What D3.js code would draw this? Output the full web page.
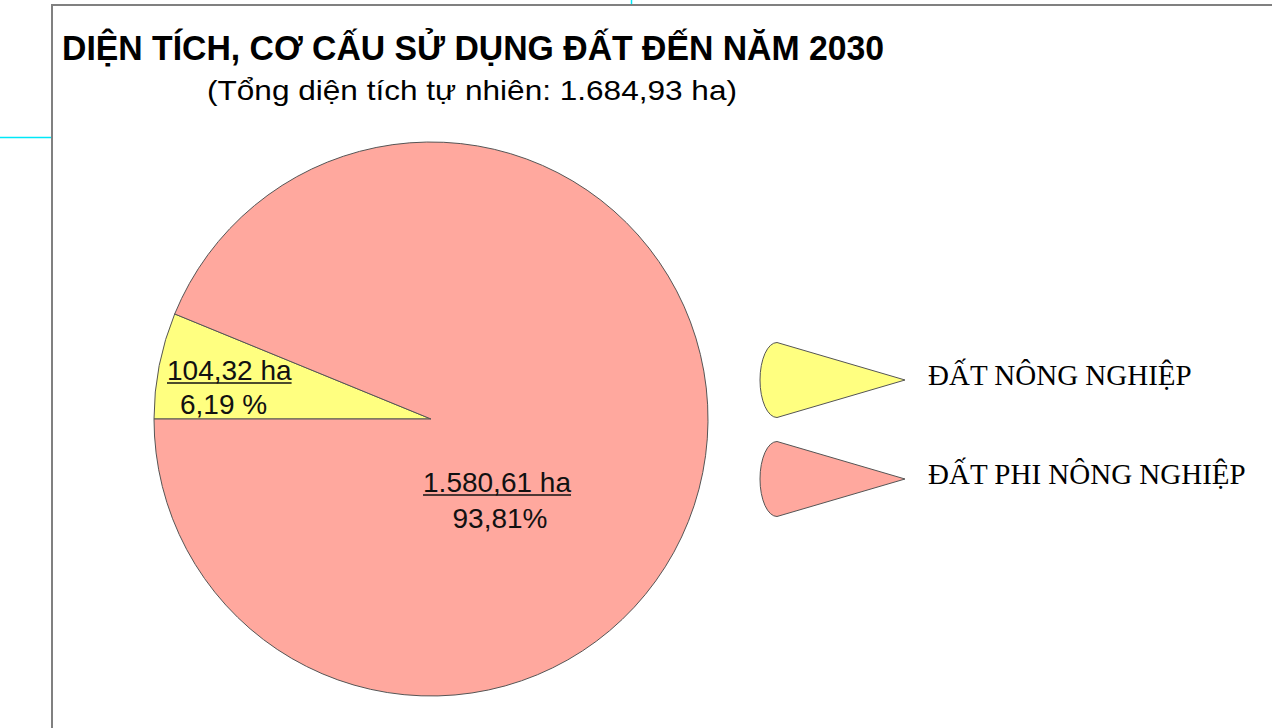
<!DOCTYPE html>
<html><head><meta charset="utf-8">
<script src="https://cdn.jsdelivr.net/npm/d3@7"></script>
<style>html,body{margin:0;padding:0;background:#fff;overflow:hidden}</style>
</head><body>
<svg id="chart" width="1272" height="728"></svg>
<script>
const titleText = "DIỆN TÍCH, CƠ CẤU SỬ DỤNG ĐẤT ĐẾN NĂM 2030";
const subtitleText = "(Tổng diện tích tự nhiên: 1.684,93 ha)";
const categories = ["ĐẤT NÔNG NGHIỆP", "ĐẤT PHI NÔNG NGHIỆP"];
const areas = [104.32, 1580.61];
const areaLabels = ["104,32 ha", "1.580,61 ha"];
const percentLabels = ["6,19 %", "93,81%"];
const colors = ["#FFFF80", "#FFA89E"];

const svg = d3.select("#chart");

// frame lines
svg.append("line").attr("x1",52).attr("y1",5).attr("x2",52).attr("y2",728).attr("stroke","#808080").attr("stroke-width",2);
svg.append("line").attr("x1",51).attr("y1",5).attr("x2",1272).attr("y2",5).attr("stroke","#808080").attr("stroke-width",2);
svg.append("line").attr("x1",0).attr("y1",137.5).attr("x2",51).attr("y2",137.5).attr("stroke","#00E8F8").attr("stroke-width",1.5);
svg.append("line").attr("x1",631.5).attr("y1",0).attr("x2",631.5).attr("y2",4).attr("stroke","#00E8F8").attr("stroke-width",1.5);

// title
svg.append("text").attr("x",62).attr("y",60).text(titleText)
  .attr("font-family","Liberation Sans, Arial, sans-serif").attr("font-weight","bold")
  .attr("font-size",35).attr("textLength",822).attr("lengthAdjust","spacingAndGlyphs").attr("fill","#000");
svg.append("text").attr("x",207).attr("y",100).text(subtitleText)
  .attr("font-family","Liberation Sans, Arial, sans-serif")
  .attr("font-size",28).attr("textLength",530).attr("lengthAdjust","spacingAndGlyphs").attr("fill","#000");

// pie
const cx = 431, cy = 419, R = 277;
const pie = d3.pie().sort(null).value(d => d).startAngle(1.5*Math.PI).endAngle(3.5*Math.PI);
const arcs = pie(areas);
const arc = d3.arc().innerRadius(0).outerRadius(R);
const g = svg.append("g").attr("transform",`translate(${cx},${cy})`);
g.selectAll("path").data(arcs).join("path")
  .attr("d",arc).attr("fill",(d,i)=>colors[i]).attr("stroke","#555").attr("stroke-width",1);

// labels: [x of area label, baseline, x of percent label, baseline, anchor]
const labelPos = [[167,380,180,414,"start"],[497,492,500,528,"middle"]];
arcs.forEach((a,i)=>{
  const [x1,y1,x2,y2,anc] = labelPos[i];
  const t = svg.append("text").attr("x",x1).attr("y",y1).attr("text-anchor",anc)
    .attr("font-family","Liberation Sans, Arial, sans-serif").attr("font-size",28).attr("fill","#111")
    .text(areaLabels[i]);
  const w = t.node().getComputedTextLength();
  const lx = anc === "start" ? x1 : x1 - w/2;
  svg.append("line").attr("x1",lx).attr("x2",lx+w).attr("y1",y1+3).attr("y2",y1+3)
    .attr("stroke","#111").attr("stroke-width",1.5);
  svg.append("text").attr("x",x2).attr("y",y2).attr("text-anchor",anc)
    .attr("font-family","Liberation Sans, Arial, sans-serif").attr("font-size",28).attr("fill","#111")
    .text(percentLabels[i]);
});

// legend
const legY = d3.scaleOrdinal().domain(categories).range([380, 479]);
const lg = svg.append("g").selectAll("g").data(categories).join("g")
  .attr("transform",d=>`translate(905,${legY(d)})`);
lg.append("path")
  .attr("d","M0,0 L-128,-37.5 A17,37.5 0 0 0 -128,37.5 Z")
  .attr("fill",(d,i)=>colors[i]).attr("stroke","#555").attr("stroke-width",1);
lg.append("text").attr("x",23).attr("y",5).text(d=>d)
  .attr("font-family","Liberation Serif, Times New Roman, serif").attr("font-size",29).attr("fill","#000");
</script>
</body></html>
